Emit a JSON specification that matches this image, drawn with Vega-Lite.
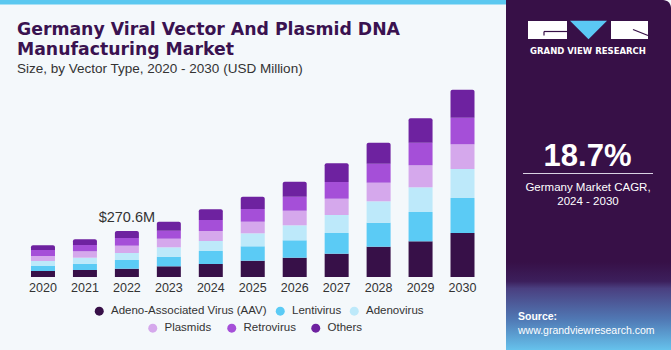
{
  "$schema": "https://vega.github.io/schema/vega-lite/v6.json",
  "width": 671,
  "height": 350,
  "autosize": "none",
  "padding": 0,
  "background": "#F4F8FB",
  "config": {"view": {"stroke": null}, "font": "Liberation Sans"},
  "datasets": {
    "market": [
      {"year": "2020", "type": "Adeno-Associated Virus (AAV)", "value": 35.3},
      {"year": "2020", "type": "Lentivirus", "value": 29.4},
      {"year": "2020", "type": "Adenovirus", "value": 29.4},
      {"year": "2020", "type": "Plasmids", "value": 29.4},
      {"year": "2020", "type": "Retrovirus", "value": 35.3},
      {"year": "2020", "type": "Others", "value": 27.6},
      {"year": "2021", "type": "Adeno-Associated Virus (AAV)", "value": 41.2},
      {"year": "2021", "type": "Lentivirus", "value": 37.0},
      {"year": "2021", "type": "Adenovirus", "value": 35.3},
      {"year": "2021", "type": "Plasmids", "value": 37.6},
      {"year": "2021", "type": "Retrovirus", "value": 37.0},
      {"year": "2021", "type": "Others", "value": 33.5},
      {"year": "2022", "type": "Adeno-Associated Virus (AAV)", "value": 48.8},
      {"year": "2022", "type": "Lentivirus", "value": 51.2},
      {"year": "2022", "type": "Adenovirus", "value": 41.2},
      {"year": "2022", "type": "Plasmids", "value": 42.9},
      {"year": "2022", "type": "Retrovirus", "value": 45.3},
      {"year": "2022", "type": "Others", "value": 41.2},
      {"year": "2023", "type": "Adeno-Associated Virus (AAV)", "value": 62.9},
      {"year": "2023", "type": "Lentivirus", "value": 56.4},
      {"year": "2023", "type": "Adenovirus", "value": 55.3},
      {"year": "2023", "type": "Plasmids", "value": 50.6},
      {"year": "2023", "type": "Retrovirus", "value": 47.0},
      {"year": "2023", "type": "Others", "value": 52.9},
      {"year": "2024", "type": "Adeno-Associated Virus (AAV)", "value": 76.4},
      {"year": "2024", "type": "Lentivirus", "value": 76.4},
      {"year": "2024", "type": "Adenovirus", "value": 58.8},
      {"year": "2024", "type": "Plasmids", "value": 58.8},
      {"year": "2024", "type": "Retrovirus", "value": 64.7},
      {"year": "2024", "type": "Others", "value": 62.9},
      {"year": "2025", "type": "Adeno-Associated Virus (AAV)", "value": 95.8},
      {"year": "2025", "type": "Lentivirus", "value": 84.7},
      {"year": "2025", "type": "Adenovirus", "value": 76.4},
      {"year": "2025", "type": "Plasmids", "value": 68.2},
      {"year": "2025", "type": "Retrovirus", "value": 74.7},
      {"year": "2025", "type": "Others", "value": 72.3},
      {"year": "2026", "type": "Adeno-Associated Virus (AAV)", "value": 113.5},
      {"year": "2026", "type": "Lentivirus", "value": 102.3},
      {"year": "2026", "type": "Adenovirus", "value": 88.2},
      {"year": "2026", "type": "Plasmids", "value": 85.8},
      {"year": "2026", "type": "Retrovirus", "value": 82.3},
      {"year": "2026", "type": "Others", "value": 88.2},
      {"year": "2027", "type": "Adeno-Associated Virus (AAV)", "value": 137.0},
      {"year": "2027", "type": "Lentivirus", "value": 121.7},
      {"year": "2027", "type": "Adenovirus", "value": 105.8},
      {"year": "2027", "type": "Plasmids", "value": 95.8},
      {"year": "2027", "type": "Retrovirus", "value": 98.2},
      {"year": "2027", "type": "Others", "value": 110.0},
      {"year": "2028", "type": "Adeno-Associated Virus (AAV)", "value": 178.2},
      {"year": "2028", "type": "Lentivirus", "value": 141.1},
      {"year": "2028", "type": "Adenovirus", "value": 125.8},
      {"year": "2028", "type": "Plasmids", "value": 109.4},
      {"year": "2028", "type": "Retrovirus", "value": 111.7},
      {"year": "2028", "type": "Others", "value": 123.5},
      {"year": "2029", "type": "Adeno-Associated Virus (AAV)", "value": 209.9},
      {"year": "2029", "type": "Lentivirus", "value": 172.3},
      {"year": "2029", "type": "Adenovirus", "value": 145.2},
      {"year": "2029", "type": "Plasmids", "value": 129.4},
      {"year": "2029", "type": "Retrovirus", "value": 132.9},
      {"year": "2029", "type": "Others", "value": 143.5},
      {"year": "2030", "type": "Adeno-Associated Virus (AAV)", "value": 258.7},
      {"year": "2030", "type": "Lentivirus", "value": 205.8},
      {"year": "2030", "type": "Adenovirus", "value": 170.5},
      {"year": "2030", "type": "Plasmids", "value": 145.2},
      {"year": "2030", "type": "Retrovirus", "value": 156.4},
      {"year": "2030", "type": "Others", "value": 164.6}
    ],
    "callout": [
      {"year": "2022", "total": 270.6, "label": "$270.6M"}
    ]
  },
  "layer": [
    {
      "data": {"values": [{}]},
      "mark": {"type": "rect", "fill": "#5BC8F0"},
      "encoding": {"x": {"value": 0}, "x2": {"value": 510}, "y": {"value": 0}, "y2": {"value": 4.5}}
    },
    {
      "data": {"values": [{}]},
      "mark": {"type": "rect", "fill": "#371047", "cornerRadiusTopRight": 8},
      "encoding": {"x": {"value": 506}, "x2": {"value": 671}, "y": {"value": 0}, "y2": {"value": 350}}
    },
    {
      "data": {"values": [{}]},
      "mark": {"type": "rect", "fill": {"gradient": "linear", "x1": 0, "y1": 0, "x2": 0, "y2": 1, "stops": [
        {"offset": 0, "color": "#371047"},
        {"offset": 0.22, "color": "#3c1f5c"},
        {"offset": 0.3, "color": "#4a3f80"},
        {"offset": 0.65, "color": "#5078b4"},
        {"offset": 1, "color": "#66c2ec"}
      ]}},
      "encoding": {"x": {"value": 506}, "x2": {"value": 671}, "y": {"value": 262}, "y2": {"value": 350}}
    },
    {
      "data": {"values": [{}]},
      "mark": {"type": "rect", "fill": "#FFFFFF"},
      "encoding": {"x": {"value": 528}, "x2": {"value": 567}, "y": {"value": 21}, "y2": {"value": 39}}
    },
    {
      "data": {"values": [{}]},
      "mark": {"type": "rect", "fill": "#FFFFFF"},
      "encoding": {"x": {"value": 611}, "x2": {"value": 648}, "y": {"value": 21}, "y2": {"value": 39}}
    },
    {
      "data": {"values": [{}]},
      "mark": {"type": "point", "shape": "M-1,-0.5L1,-0.5L0,0.5Z", "filled": true, "fill": "#5BC8F5", "opacity": 1, "size": 1369, "strokeWidth": 0},
      "encoding": {"x": {"value": 588.5}, "y": {"value": 30}}
    },
    {
      "data": {"values": [{}]},
      "mark": {"type": "rule", "color": "#371047", "strokeWidth": 1.2},
      "encoding": {"x": {"value": 544}, "x2": {"value": 567}, "y": {"value": 31.5}}
    },
    {
      "data": {"values": [{}]},
      "mark": {"type": "rule", "color": "#371047", "strokeWidth": 1.2},
      "encoding": {"x": {"value": 544}, "y": {"value": 31.5}, "y2": {"value": 35.5}}
    },
    {
      "data": {"values": [{}]},
      "mark": {"type": "rule", "color": "#371047", "strokeWidth": 1.2},
      "encoding": {"x": {"value": 633}, "y": {"value": 29.5}, "x2": {"value": 648}, "y2": {"value": 35.5}}
    },
    {
      "data": {"values": [{}]},
      "mark": {"type": "text", "font": "DejaVu Sans", "fontWeight": "bold", "fontSize": 8.5, "color": "#FFFFFF", "align": "center", "baseline": "alphabetic"},
      "encoding": {"x": {"value": 588}, "y": {"value": 54}, "text": {"value": "GRAND VIEW RESEARCH"}}
    },
    {
      "data": {"values": [{}]},
      "mark": {"type": "text", "fontWeight": "bold", "fontSize": 31, "color": "#FFFFFF", "align": "center", "baseline": "alphabetic"},
      "encoding": {"x": {"value": 587.5}, "y": {"value": 166}, "text": {"value": "18.7%"}}
    },
    {
      "data": {"values": [{}]},
      "mark": {"type": "rule", "color": "#D9D2E3", "strokeWidth": 1},
      "encoding": {"x": {"value": 523}, "x2": {"value": 653}, "y": {"value": 173.5}}
    },
    {
      "data": {"values": [{}]},
      "mark": {"type": "text", "fontSize": 11.5, "color": "#FFFFFF", "align": "center", "baseline": "alphabetic"},
      "encoding": {"x": {"value": 588}, "y": {"value": 191}, "text": {"value": "Germany Market CAGR,"}}
    },
    {
      "data": {"values": [{}]},
      "mark": {"type": "text", "fontSize": 11.5, "color": "#FFFFFF", "align": "center", "baseline": "alphabetic"},
      "encoding": {"x": {"value": 588}, "y": {"value": 205}, "text": {"value": "2024 - 2030"}}
    },
    {
      "data": {"values": [{}]},
      "mark": {"type": "text", "fontWeight": "bold", "fontSize": 10.5, "color": "#FFFFFF", "align": "left", "baseline": "alphabetic"},
      "encoding": {"x": {"value": 518}, "y": {"value": 320}, "text": {"value": "Source:"}}
    },
    {
      "data": {"values": [{}]},
      "mark": {"type": "text", "fontSize": 10.5, "color": "#FFFFFF", "align": "left", "baseline": "alphabetic"},
      "encoding": {"x": {"value": 518}, "y": {"value": 333.5}, "text": {"value": "www.grandviewresearch.com"}}
    },
    {
      "data": {"values": [{}]},
      "mark": {"type": "text", "font": "DejaVu Sans", "fontWeight": "bold", "fontSize": 17.3, "color": "#3A1250", "align": "left", "baseline": "alphabetic"},
      "encoding": {"x": {"value": 17}, "y": {"value": 35}, "text": {"value": "Germany Viral Vector And Plasmid DNA"}}
    },
    {
      "data": {"values": [{}]},
      "mark": {"type": "text", "font": "DejaVu Sans", "fontWeight": "bold", "fontSize": 17.3, "color": "#3A1250", "align": "left", "baseline": "alphabetic"},
      "encoding": {"x": {"value": 17}, "y": {"value": 55}, "text": {"value": "Manufacturing Market"}}
    },
    {
      "data": {"values": [{}]},
      "mark": {"type": "text", "fontSize": 13.5, "color": "#333333", "align": "left", "baseline": "alphabetic"},
      "encoding": {"x": {"value": 17}, "y": {"value": 72.7}, "text": {"value": "Size, by Vector Type, 2020 - 2030 (USD Million)"}}
    },
    {
      "data": {"name": "market"},
      "transform": [
        {"stack": "value", "groupby": ["year"], "as": ["v0", "v1"]},
        {"filter": {"field": "type", "oneOf": ["Adeno-Associated Virus (AAV)", "Lentivirus", "Adenovirus"]}}
      ],
      "mark": {"type": "bar"},
      "encoding": {
        "x": {"field": "year", "type": "ordinal", "scale": {"range": [22.6, 482.9], "paddingInner": 0.428, "paddingOuter": 0.2},
          "axis": {"orient": "bottom", "offset": -73, "domain": false, "ticks": false, "grid": false, "labelPadding": 4, "labelFontSize": 12.5, "labelColor": "#333333", "labelFont": "Liberation Sans", "labelAngle": 0, "title": null}},
        "y": {"field": "v1", "type": "quantitative", "scale": {"domain": [0, 1628.8], "range": [277, 0], "nice": false, "zero": true}, "axis": null},
        "y2": {"field": "v0"},
        "color": {"field": "type", "type": "nominal",
          "scale": {"domain": ["Adeno-Associated Virus (AAV)", "Lentivirus", "Adenovirus"], "range": ["#371048", "#5BCBF5", "#BDE9FA"]},
          "legend": {"orient": "none", "legendX": 93.5, "legendY": 305, "direction": "horizontal", "columns": 3, "title": null, "symbolType": "circle", "symbolSize": 81, "symbolStrokeWidth": 0, "labelFontSize": 11.5, "labelFont": "Liberation Sans", "labelColor": "#333333", "labelOffset": 6, "columnPadding": 7}}
      }
    },
    {
      "data": {"name": "market"},
      "transform": [
        {"stack": "value", "groupby": ["year"], "as": ["v0", "v1"]},
        {"filter": {"field": "type", "oneOf": ["Plasmids", "Retrovirus"]}}
      ],
      "mark": {"type": "bar"},
      "encoding": {
        "x": {"field": "year", "type": "ordinal"},
        "y": {"field": "v1", "type": "quantitative"},
        "y2": {"field": "v0"},
        "fill": {"field": "type", "type": "nominal",
          "scale": {"domain": ["Plasmids", "Retrovirus", "Others"], "range": ["#D5A8EC", "#A54FD8", "#6E22A0"]},
          "legend": {"orient": "none", "legendX": 147, "legendY": 322, "direction": "horizontal", "columns": 3, "title": null, "symbolType": "circle", "symbolSize": 81, "symbolStrokeWidth": 0, "labelFontSize": 11.5, "labelFont": "Liberation Sans", "labelColor": "#333333", "labelOffset": 6, "columnPadding": 14}}
      }
    },
    {
      "data": {"name": "market"},
      "transform": [
        {"stack": "value", "groupby": ["year"], "as": ["v0", "v1"]},
        {"filter": {"field": "type", "oneOf": ["Others"]}}
      ],
      "mark": {"type": "bar", "cornerRadiusTopLeft": 2, "cornerRadiusTopRight": 2},
      "encoding": {
        "x": {"field": "year", "type": "ordinal"},
        "y": {"field": "v1", "type": "quantitative"},
        "y2": {"field": "v0"},
        "fill": {"field": "type", "type": "nominal"}
      }
    },
    {
      "data": {"name": "callout"},
      "mark": {"type": "text", "fontSize": 14.5, "color": "#333333", "baseline": "alphabetic", "align": "center", "dy": -9},
      "encoding": {
        "x": {"field": "year", "type": "ordinal"},
        "y": {"field": "total", "type": "quantitative"},
        "text": {"field": "label"}
      }
    }
  ]
}
